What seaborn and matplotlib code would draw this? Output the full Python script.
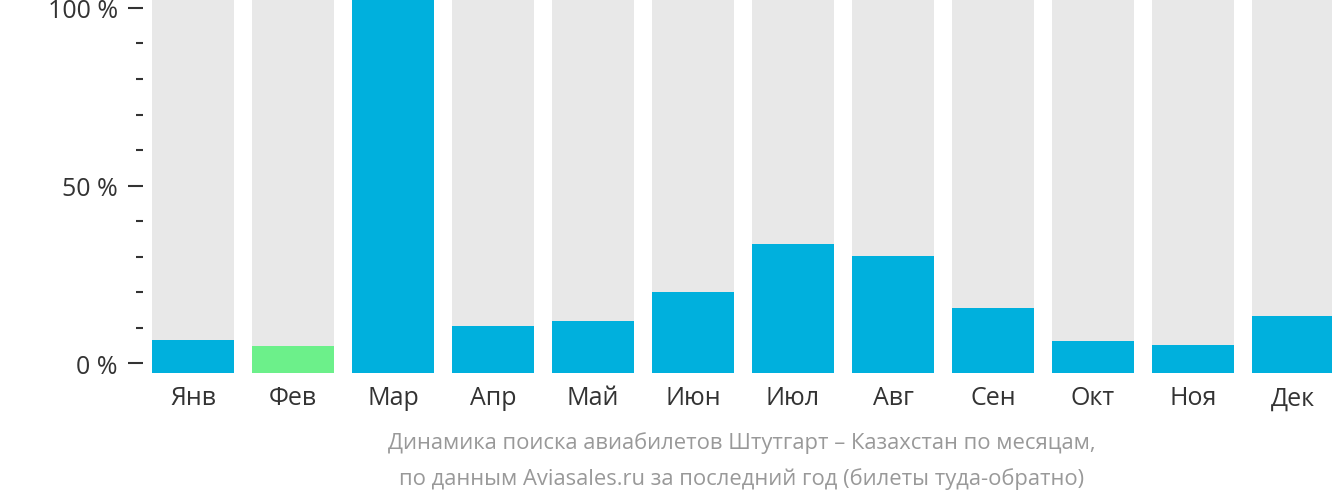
import matplotlib
matplotlib.use("Agg")
import matplotlib.pyplot as plt
import seaborn as sns
import pandas as pd
from matplotlib.ticker import FixedLocator

months = ["Янв", "Фев", "Мар", "Апр", "Май", "Июн", "Июл", "Авг", "Сен", "Окт", "Ноя", "Дек"]
values = [6.6, 4.9, 102.5, 10.4, 11.8, 20.2, 33.6, 30.2, 15.7, 6.2, 5.3, 13.2]
highlight = "Фев"
major_ticks = [0, 50, 100]
major_labels = ["0 %", "50 %", "100 %"]
minor_ticks = [10, 20, 30, 40, 60, 70, 80, 90]
caption = ["Динамика поиска авиабилетов Штутгарт – Казахстан по месяцам,",
           "по данным Aviasales.ru за последний год (билеты туда-обратно)"]

BLUE = "#00B0DD"
GREEN = "#6CF08A"
GRAY = "#E8E8E8"
TEXT = "#333333"
CAP = "#999999"
Y0, Y1 = -2.7, 102.5

sns.set_theme(style="white")
plt.rcParams["font.family"] = ["Open Sans", "DejaVu Sans"]

df = pd.DataFrame({"month": months, "value": values})
df["bg"] = Y1
palette = {m: (GREEN if m == highlight else BLUE) for m in months}

fig = plt.figure(figsize=(13.32, 5.02), dpi=100)
ax = fig.add_axes([143 / 1332, (502 - 374) / 502, 1189 / 1332, 374 / 502])

sns.barplot(data=df, x="month", y="bg", color=GRAY, width=0.82, ax=ax,
            saturation=1, errorbar=None)
sns.barplot(data=df, x="month", y="value", hue="month", palette=palette, width=0.82,
            ax=ax, saturation=1, errorbar=None, legend=False)
for p in ax.patches:
    h = p.get_height()
    p.set_y(Y0)
    p.set_height(h - Y0)
    p.set_linewidth(0)

ax.set_xlim(-0.50, 11.39)
ax.set_ylim(Y0, Y1)
for s in ax.spines.values():
    s.set_visible(False)
ax.set_xlabel("")
ax.set_ylabel("")
ax.yaxis.set_major_locator(FixedLocator(major_ticks))
ax.set_yticklabels(major_labels)
ax.yaxis.set_minor_locator(FixedLocator(minor_ticks))
ax.tick_params(axis="y", which="major", length=10.8, width=1.5, color=TEXT, pad=7.2,
               labelsize=18, labelcolor=TEXT, left=True)
ax.tick_params(axis="y", which="minor", length=5, width=1.5, color=TEXT, left=True)
ax.tick_params(axis="x", length=0, pad=9, labelsize=18, labelcolor=TEXT)

fig.text(742 / 1332, 1 - 443 / 502, caption[0], ha="center", va="center",
         fontsize=15.8, color=CAP)
fig.text(742 / 1332, 1 - 479 / 502, caption[1], ha="center", va="center",
         fontsize=15.8, color=CAP)

fig.savefig("out.png", dpi=100)
